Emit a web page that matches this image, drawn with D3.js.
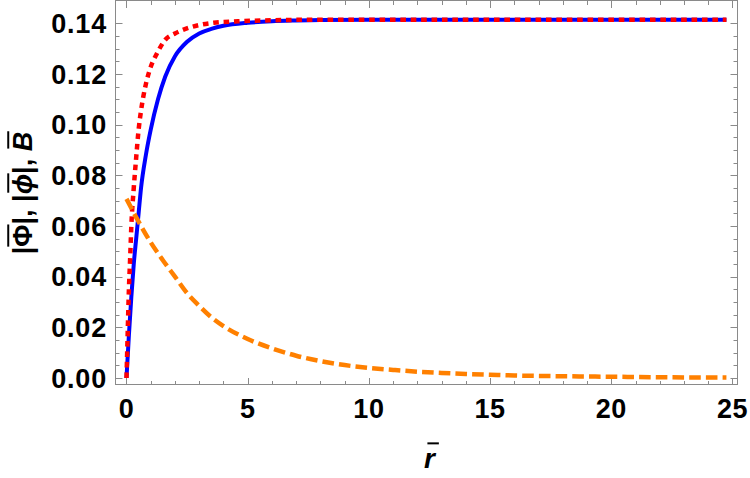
<!DOCTYPE html>
<html>
<head>
<meta charset="utf-8">
<script src="https://cdn.jsdelivr.net/npm/d3@7"></script>
<style>
  html, body { margin: 0; padding: 0; background: #fff; }
  svg { display: block; }
  text { font-family: "Liberation Sans", Arial, sans-serif; font-weight: bold; fill: #000; white-space: pre; }
</style>
</head>
<body>
<svg id="chart" width="750" height="478"></svg>
<script>
// ---- data ----
// |Phi-bar| (blue, solid)
const rPhi   = [0, 0.1, 0.2, 0.3, 0.4, 0.5, 0.6, 0.8, 1.0, 1.3, 1.6, 2.0, 2.5, 3.0, 3.5, 4.0, 5.0, 6.0, 7.0, 8.0, 10.0, 15.0, 20.0, 24.75];
const PhiVal = [0, 0.017, 0.032, 0.045, 0.055, 0.065, 0.075, 0.088, 0.098, 0.110, 0.119, 0.127, 0.1327, 0.1360, 0.1378, 0.1390, 0.1402, 0.1408, 0.1411, 0.1413, 0.1414, 0.1414, 0.1414, 0.1414];
// |phi-bar| (red, dotted)
const rphi   = [0, 0.05, 0.1, 0.15, 0.2, 0.3, 0.4, 0.5, 0.6, 0.8, 1.0, 1.25, 1.6, 2.0, 2.3, 3.0, 3.6, 4.6, 6.0, 8.0, 10.0, 15.0, 20.0, 24.75];
const phiVal = [0, 0.018, 0.035, 0.047, 0.060, 0.075, 0.087, 0.098, 0.1055, 0.116, 0.1228, 0.128, 0.1335, 0.1360, 0.1373, 0.1393, 0.1402, 0.1408, 0.1412, 0.1414, 0.1414, 0.1414, 0.1414, 0.1414];
// B-bar (orange, dashed)
const rB     = [0, 0.5, 1.0, 1.5, 2.0, 2.5, 3.0, 3.5, 4.0, 5.0, 6.0, 7.0, 8.0, 9.0, 10.0, 11.0, 12.0, 13.0, 14.0, 15.0, 16.0, 18.0, 20.0, 22.0, 24.75];
const BVal   = [0.0707, 0.0617, 0.0535, 0.0465, 0.0400, 0.0335, 0.0285, 0.0240, 0.0205, 0.0154, 0.0117, 0.0088, 0.0067, 0.0051, 0.0040, 0.0032, 0.0025, 0.0020, 0.0016, 0.0013, 0.0010, 0.0007, 0.0005, 0.0003, 0.0002];

const xMajor = [0, 5, 10, 15, 20, 25];
const xMinor = d3.range(0, 26, 1).filter(v => v % 5 !== 0);
const yMajor = [0, 0.02, 0.04, 0.06, 0.08, 0.10, 0.12, 0.14];
const yMinor = d3.range(0, 29).map(i => i * 0.005).filter((v, i) => i % 4 !== 0);

// ---- layout ----
const L = 115, R = 737, T = 1, B = 385;
const svg = d3.select("#chart");
const x = d3.scaleLinear().domain([-0.474, 25.186]).range([L, R]);
const y = d3.scaleLinear().domain([-0.00276, 0.1488]).range([B, T]);

const frameColor = "#8a8a8a";
const majorLen = 7, minorLen = 4;

// frame
svg.append("rect")
  .attr("x", L + 0.5).attr("y", T - 0.5)
  .attr("width", R - L).attr("height", B - T)
  .attr("fill", "none").attr("stroke", frameColor).attr("stroke-width", 1);

// ticks (inward, all four sides)
const tg = svg.append("g").attr("stroke", frameColor).attr("stroke-width", 1);
function xt(vals, len) {
  vals.forEach(v => {
    const px = Math.round(x(v)) + 0.5;
    tg.append("line").attr("x1", px).attr("x2", px).attr("y1", B).attr("y2", B - len);
    tg.append("line").attr("x1", px).attr("x2", px).attr("y1", T).attr("y2", T + len);
  });
}
function yt(vals, len) {
  vals.forEach(v => {
    const py = Math.round(y(v)) + 0.5;
    tg.append("line").attr("y1", py).attr("y2", py).attr("x1", L + 0.5).attr("x2", L + 0.5 + len);
    tg.append("line").attr("y1", py).attr("y2", py).attr("x1", R + 0.5).attr("x2", R + 0.5 - len);
  });
}
xt(xMajor, majorLen); xt(xMinor, minorLen);
yt(yMajor, majorLen); yt(yMinor, minorLen);

// tick labels
const fs = 27;
svg.append("g").selectAll("text").data(xMajor).join("text")
  .attr("x", d => x(d)).attr("y", 418)
  .attr("text-anchor", "middle").attr("font-size", fs)
  .attr("letter-spacing", 0.5)
  .text(d => d3.format("d")(d));
svg.append("g").selectAll("text").data(yMajor).join("text")
  .attr("x", 107).attr("y", d => y(d) + 9.7)
  .attr("text-anchor", "end").attr("font-size", fs)
  .attr("letter-spacing", 0.8)
  .text(d => d3.format(".2f")(d));

// ---- curves ----
const line = d3.line().x(d => x(d[0])).y(d => y(d[1])).curve(d3.curveMonotoneX);
const blueData = rPhi.map((r, i) => [r, PhiVal[i]]);
const redData = rphi.map((r, i) => [r, phiVal[i]]);
const orangeData = rB.map((r, i) => [r, BVal[i]]);

svg.append("path").datum(blueData).attr("d", line)
  .attr("fill", "none").attr("stroke", "#0000ff").attr("stroke-width", 4);
svg.append("path").datum(redData).attr("d", line)
  .attr("fill", "none").attr("stroke", "#ff0000").attr("stroke-width", 4.5)
  .attr("stroke-dasharray", "5.6,4.8");
svg.append("path").datum(orangeData).attr("d", line)
  .attr("fill", "none").attr("stroke", "#ff8000").attr("stroke-width", 4.5)
  .attr("stroke-dasharray", "11.6,5.1");

// ---- axis labels with overbars ----
function barLabel(g, pieces, fsz) {
  let cx = 0;
  const bars = [];
  pieces.forEach(p => {
    const t = g.append("text").attr("x", cx).attr("y", 0).attr("font-size", fsz)
      .attr("xml:space", "preserve")
      .style("font-style", p.italic ? "italic" : "normal").text(p.t);
    const w = t.node().getComputedTextLength();
    if (p.bar) bars.push([cx + (p.bx0 || 0) * fsz, cx + w + (p.bx1 || 0) * fsz]);
    cx += w + (p.after || 0);
  });
  bars.forEach(b => {
    g.append("line").attr("x1", b[0]).attr("x2", b[1])
      .attr("y1", -0.88 * fsz).attr("y2", -0.88 * fsz)
      .attr("stroke", "#000").attr("stroke-width", 2);
  });
  return cx;
}

// y label (rotated)
const yl = svg.append("g");
const ylw = barLabel(yl, [
  { t: "|" },
  { t: "Φ", bar: true },
  { t: "|," },
  { t: " ", after: 0 },
  { t: "|" },
  { t: "ϕ", italic: true, bar: true, bx0: 0.06, bx1: 0.02 },
  { t: "|," },
  { t: " " },
  { t: "B", italic: true, bar: true, bx0: 0.1, bx1: 0.02 }
], 27);
yl.attr("transform", `translate(${32},${(T + B) / 2 + ylw / 2}) rotate(-90)`);

// x label
const xl = svg.append("g");
const xlw = barLabel(xl, [{ t: "r", italic: true, bar: true, bx0: 0.12, bx1: 0.14 }], 28);
xl.attr("transform", `translate(${x(12.5) - xlw / 2},${468})`);
</script>
</body>
</html>
